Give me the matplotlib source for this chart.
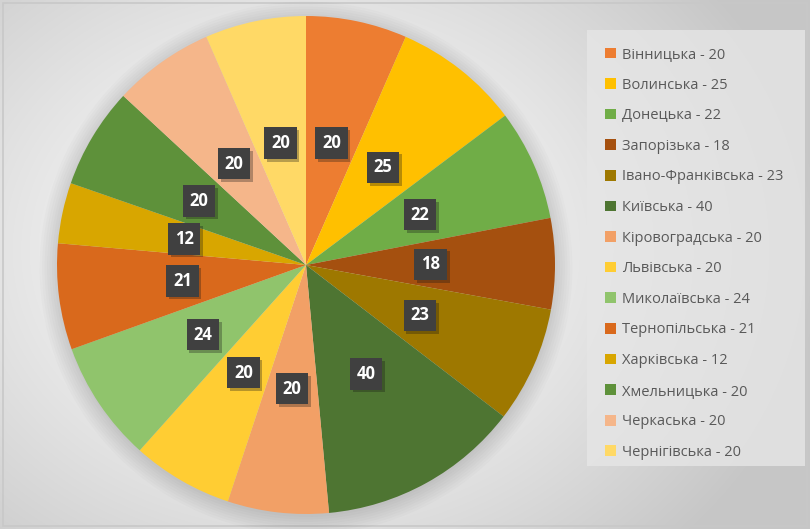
import matplotlib.pyplot as plt
import matplotlib.patheffects as pe
import numpy as np
from matplotlib.patches import Rectangle, Circle

plt.rcParams["font.family"] = ["Open Sans", "DejaVu Sans"]

regions = ["Вінницька", "Волинська", "Донецька", "Запорізька", "Івано-Франківська",
           "Київська", "Кіровоградська", "Львівська", "Миколаївська", "Тернопільська",
           "Харківська", "Хмельницька", "Черкаська", "Чернігівська"]
values = [20, 25, 22, 18, 23, 40, 20, 20, 24, 21, 12, 20, 20, 20]
colors = ["#ED7D31", "#FFC000", "#70AD47", "#A5500F", "#9E7800", "#4E7532",
          "#F2A066", "#FFCD33", "#90C46C", "#D9691C", "#D8A600", "#5E913A",
          "#F5B68A", "#FFD966"]

W, H = 810, 529
fig = plt.figure(figsize=(W / 100, H / 100), dpi=100)

# background with radial gradient
bg = fig.add_axes([0, 0, 1, 1], zorder=0)
yy, xx = np.mgrid[0:H, 0:W]
d = np.sqrt(((xx - 300) / 520) ** 2 + ((yy - 250) / 420) ** 2)
shade = np.clip(1.0 - 0.22 * d ** 1.3, 0.78, 1.0)
bg.imshow(np.dstack([shade] * 3), extent=[0, W, H, 0], aspect="auto")
bg.add_patch(Rectangle((3, 3), W - 6, H - 6, fill=False, ec="#c8c8c8", lw=1.2))
# legend box
bg.add_patch(Rectangle((587, 30), 218, 436, fc="#e6e6e6", ec="none", alpha=0.8))
bg.set_xlim(0, W)
bg.set_ylim(H, 0)
bg.axis("off")

# pie
cx, cy, r = 306, 265, 249
ax = fig.add_axes([(cx - r) / W, (H - cy - r) / H, 2 * r / W, 2 * r / H], zorder=1)
ax.patch.set_alpha(0)
for k in range(8):
    ax.add_patch(Circle((0, -0.012), 1.0 + 0.01 * k, color="k", alpha=0.015,
                        lw=0, clip_on=False))
wedges, _ = ax.pie(values, colors=colors, startangle=90, counterclock=False,
                   radius=1.0, wedgeprops=dict(linewidth=0))
ax.set_xlim(-1, 1)
ax.set_ylim(-1, 1)
ax.set_aspect("equal")

total = sum(values)
cum = 0
for v in values:
    mid = 90 - (cum + v / 2) / total * 360
    cum += v
    x = 0.5 * np.cos(np.radians(mid))
    y = 0.5 * np.sin(np.radians(mid))
    t = ax.text(x, y, str(v), ha="center", va="center", color="white",
                fontsize=12, fontweight="bold",
                bbox=dict(boxstyle="square,pad=0.4", fc="#404040", ec="none"))
    t.get_bbox_patch().set_path_effects(
        [pe.SimplePatchShadow(offset=(2, -2), alpha=0.3), pe.Normal()])

labels = [f"{n} - {v}" for n, v in zip(regions, values)]
leg = fig.legend(wedges, labels, loc="upper left",
                 bbox_to_anchor=(605 / W, 1 - 47 / H),
                 frameon=False, fontsize=10.5, labelcolor="#595959",
                 handlelength=0.75, handleheight=0.75, handletextpad=0.4,
                 labelspacing=1.07, borderpad=0, borderaxespad=0)
leg.set_zorder(2)

fig.savefig("out.png", dpi=100)
